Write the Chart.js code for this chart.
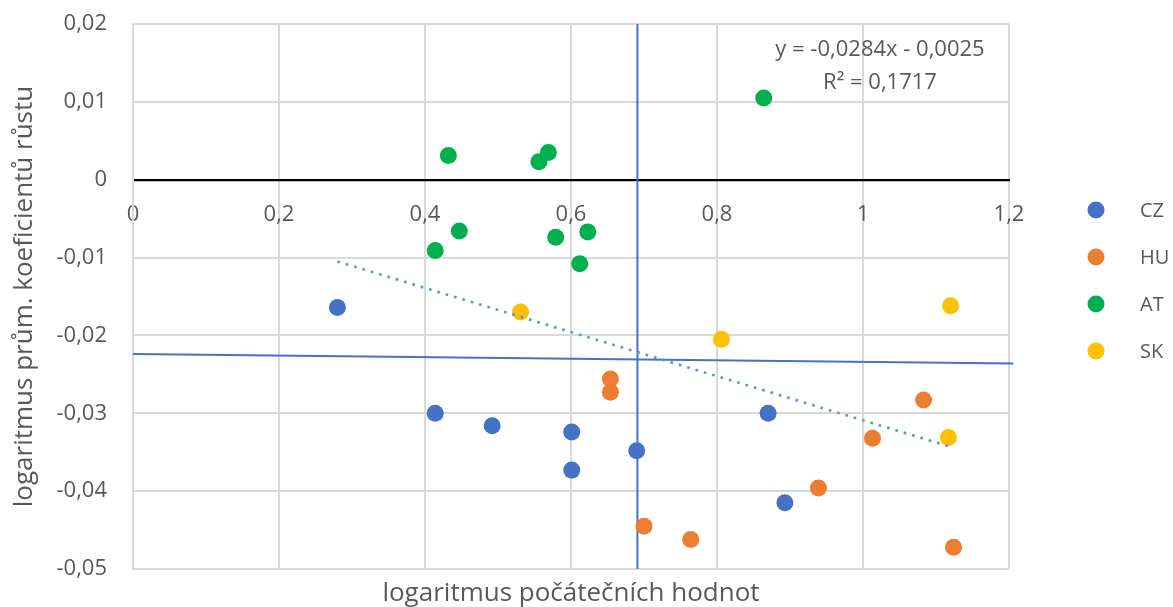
<!DOCTYPE html>
<html>
<head>
<meta charset="utf-8">
<script src="https://cdn.jsdelivr.net/npm/chart.js@4.4.1/dist/chart.umd.min.js"></script>
<style>
  html, body { margin: 0; padding: 0; background: #fff; }
  #wrap { width: 1173px; height: 607px; position: relative; }
</style>
</head>
<body>
<div id="wrap"><canvas id="myChart"></canvas></div>
<script>
const countries = ['CZ', 'HU', 'AT', 'SK'];
const colors = ['#4472C4', '#ED7D31', '#00B050', '#FFC000'];

// values
const czX = [0.280, 0.414, 0.492, 0.601, 0.601, 0.690, 0.870, 0.893];
const czY = [-0.0164, -0.0300, -0.0316, -0.0324, -0.0373, -0.0348, -0.0300, -0.0415];

const huX = [0.654, 0.654, 0.700, 0.764, 0.939, 1.013, 1.083, 1.124];
const huY = [-0.0256, -0.0273, -0.0445, -0.0462, -0.0396, -0.0332, -0.0283, -0.0472];

const atX = [0.432, 0.556, 0.569, 0.864, 0.447, 0.414, 0.579, 0.623, 0.612];
const atY = [0.0031, 0.0023, 0.0035, 0.0105, -0.0066, -0.0091, -0.0074, -0.0067, -0.0108];

const skX = [0.531, 0.806, 1.120, 1.117];
const skY = [-0.0170, -0.0205, -0.0162, -0.0331];

// reference lines and trendline
const vLineX = [0.691, 0.691];
const vLineY = [0.02, -0.05];
const hLineX = [0, 1.206];
const hLineY = [-0.0224, -0.0236];
const trendX = [0.28, 1.12];
const trendY = [-0.0105, -0.0343];
const trendText = ['y = -0,0284x - 0,0025', 'R² = 0,1717'];

const xMin = 0, xMax = 1.2, xStep = 0.2;
const yMin = -0.05, yMax = 0.02, yStep = 0.01;

const xTitle = 'logaritmus počátečních hodnot';
const yTitle = 'logaritmus prům. koeficientů růstu';

const family = "'Open Sans', 'Noto Sans', sans-serif";
const textColor = '#595959';
const gridColor = '#d9d9d9';

function pts(xs, ys) {
    return xs.map((x, i) => ({ x: x, y: ys[i] }));
}

function fmt(v) {
    return String(+v.toFixed(2)).replace('.', ',');
}

const seriesX = [czX, huX, atX, skX];
const seriesY = [czY, huY, atY, skY];

const pointSets = countries.map((c, i) => ({
    label: c,
    data: pts(seriesX[i], seriesY[i]),
    backgroundColor: colors[i],
    borderColor: colors[i],
    borderWidth: 0,
    pointRadius: 8.5,
    pointHoverRadius: 8.5,
    order: 1
}));

const lineSets = [
    {
        label: 'trend',
        data: pts(trendX, trendY),
        showLine: true,
        borderColor: '#5B9BD5',
        borderWidth: 2.7,
        borderDash: [2.7, 6],
        pointRadius: 0,
        order: 0
    },
    {
        label: 'vline',
        data: pts(vLineX, vLineY),
        showLine: true,
        borderColor: '#4472C4',
        borderWidth: 2,
        pointRadius: 0,
        clip: false,
        order: 2
    },
    {
        label: 'hline',
        data: pts(hLineX, hLineY),
        showLine: true,
        borderColor: '#4472C4',
        borderWidth: 2,
        pointRadius: 0,
        clip: false,
        order: 2
    }
];

// legend drawn by hand so the spacing matches
const sideLegend = {
    id: 'sideLegend',
    afterDraw(chart) {
        const c = chart.ctx;
        const area = chart.chartArea;
        c.save();
        c.font = '20px ' + family;
        c.textBaseline = 'middle';
        c.textAlign = 'left';
        countries.forEach((name, i) => {
            const y = area.top + 186 + i * 47;
            const x = area.right + 87;
            c.beginPath();
            c.arc(x, y, 8.5, 0, Math.PI * 2);
            c.fillStyle = colors[i];
            c.fill();
            c.fillStyle = textColor;
            c.fillText(name, x + 44, y + 1);
        });
        c.restore();
    }
};

const trendLabel = {
    id: 'trendLabel',
    afterDraw(chart) {
        const c = chart.ctx;
        const area = chart.chartArea;
        c.save();
        c.font = '22px ' + family;
        c.fillStyle = textColor;
        c.textAlign = 'center';
        c.textBaseline = 'middle';
        c.fillText(trendText[0], area.right - 129, area.top + 26);
        c.fillText(trendText[1], area.right - 129, area.top + 59);
        c.restore();
    }
};

const ctx = document.getElementById('myChart').getContext('2d');
const myChart = new Chart(ctx, {
    type: 'scatter',
    data: { datasets: pointSets.concat(lineSets) },
    options: {
        responsive: true,
        maintainAspectRatio: false,
        animation: false,
        events: [],
        layout: { padding: { left: 0, top: 24, right: 164, bottom: 0 } },
        scales: {
            x: {
                type: 'linear',
                min: xMin,
                max: xMax,
                position: { y: 0 },
                ticks: {
                    stepSize: xStep,
                    padding: 22,
                    autoSkip: false,
                    maxRotation: 0,
                    color: textColor,
                    font: { family: family, size: 22 },
                    callback: fmt
                },
                grid: { color: gridColor, lineWidth: 2, drawTicks: false },
                border: { color: '#000', width: 2.2 },
                afterFit: s => {
                    s.height = 0;
                    s.paddingLeft = 0;
                    s.paddingRight = 0;
                }
            },
            y: {
                type: 'linear',
                min: yMin,
                max: yMax,
                ticks: {
                    stepSize: yStep,
                    padding: 26,
                    color: textColor,
                    font: { family: family, size: 22 },
                    callback: fmt
                },
                grid: {
                    color: c => Math.abs(c.tick.value) < 1e-9 ? 'rgba(0,0,0,0)' : gridColor,
                    lineWidth: 2,
                    drawTicks: false
                },
                border: { color: gridColor, width: 2 },
                title: {
                    display: true,
                    text: yTitle,
                    color: textColor,
                    font: { family: family, size: 26 },
                    padding: { top: 9, bottom: 0 }
                },
                afterFit: s => {
                    s.width = 133;
                    s.paddingTop = 0;
                    s.paddingBottom = 0;
                }
            }
        },
        plugins: {
            legend: { display: false },
            tooltip: { enabled: false },
            title: {
                display: true,
                position: 'bottom',
                fullSize: false,
                text: xTitle,
                color: textColor,
                font: { family: family, size: 26, weight: 'normal', lineHeight: 1 },
                padding: { top: 12, bottom: 0 }
            }
        }
    },
    plugins: [sideLegend, trendLabel]
});
</script>
</body>
</html>
